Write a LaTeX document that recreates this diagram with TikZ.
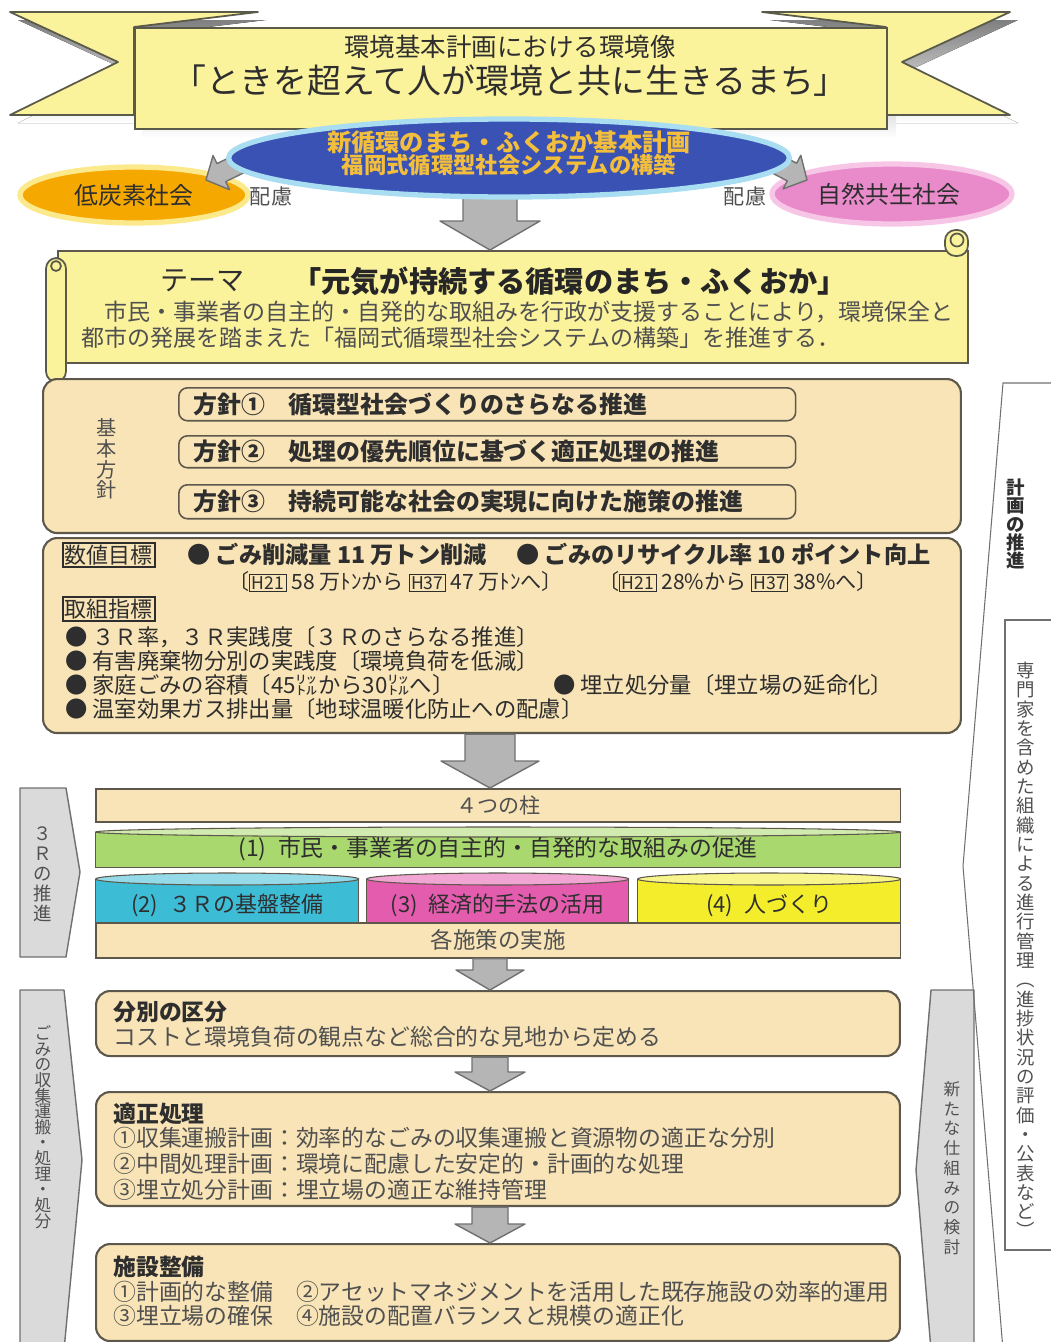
\documentclass[tikz,border=0pt]{standalone}
\usepackage{fontspec}
\setmainfont{Noto Sans CJK JP}
\usetikzlibrary{positioning,calc,shapes.geometric}
\definecolor{ribbon}{HTML}{FBF29C}
\definecolor{ribbonline}{HTML}{5A5A4A}
\definecolor{shade}{HTML}{8C8C8C}
\definecolor{planblue}{HTML}{3A52B4}
\definecolor{planrim}{HTML}{A8DDF2}
\definecolor{plantext}{HTML}{F3BE3C}
\definecolor{lowcarbon}{HTML}{F5A800}
\definecolor{lowrim}{HTML}{FBE98C}
\definecolor{nature}{HTML}{E98BCB}
\definecolor{naturerim}{HTML}{F7C6E6}
\definecolor{tan}{HTML}{F8E4B6}
\definecolor{tanline}{HTML}{5E574B}
\definecolor{ink}{HTML}{2E2E2E}
\definecolor{inksoft}{HTML}{505050}
\definecolor{arrgray}{HTML}{B5B5B5}
\definecolor{arrline}{HTML}{707070}
\definecolor{sidegray}{HTML}{DADADA}
\definecolor{pillgreen}{HTML}{A9D86E}
\definecolor{pillcyan}{HTML}{3DBCD6}
\definecolor{pillpink}{HTML}{E35CAE}
\definecolor{pillyellow}{HTML}{F3ED2C}
\setlength{\fboxsep}{0.8pt}
\setlength{\fboxrule}{0.6pt}
\newcommand{\sz}[2]{\fontsize{#1}{#2}\selectfont}
\newcommand{\yr}[1]{\fbox{\sz{10}{11}#1}}
% block arrow: tail, tip, shaft half width, head half width, head length
\newcommand{\blockarr}[5]{%
  \coordinate (neck) at ($(#2)!#5!(#1)$);
  \draw[barrow] ($(#1)!#3!90:(#2)$) -- ($(neck)!#3!90:(#2)$) -- ($(neck)!#4!90:(#2)$)
    -- (#2) -- ($(neck)!#4!-90:(#2)$) -- ($(neck)!#3!-90:(#2)$)
    -- ($(#1)!#3!-90:(#2)$) -- cycle;}

\begin{document}
\begin{tikzpicture}[x=0.02cm, y=-0.02cm,
  ribbonbox/.style={draw=ribbonline, line width=1pt, fill=ribbon, anchor=north west, inner sep=0},
  ribbontail/.style={draw=ribbonline, line width=1pt, fill=ribbon, line join=round},
  bigoval/.style={ellipse, line width=3pt, inner sep=0},
  tanbox/.style={draw=tanline, line width=1.2pt, fill=tan, rounded corners=8pt, anchor=north west, inner sep=0},
  aimbox/.style={draw=tanline, line width=0.9pt, rounded corners=5pt, anchor=north west, inner sep=0, minimum width=12.34cm},
  band/.style={draw=tanline, line width=0.9pt, fill=tan, anchor=north west, inner sep=0, minimum width=16.1cm},
  pillar/.style={draw=tanline, line width=0.8pt, anchor=north west, inner sep=0},
  rim/.style={draw=tanline, line width=0.6pt},
  tag/.style={draw=ink, line width=0.9pt, inner sep=1.2pt, text=ink, anchor=west, font=\sz{12.5}{14}},
  txt/.style={inner sep=0, text=ink, anchor=west},
  vtext/.style={align=center, inner sep=0, text=inksoft},
  barrow/.style={fill=arrgray, draw=arrline, line width=0.8pt, line join=round},
  sidebar/.style={fill=sidegray, draw=arrline, line width=0.8pt, line join=round},
  guide/.style={draw=arrline, line width=0.6pt}
]
\useasboundingbox (0,0) rectangle (1051,1342);

% vision banner
\fill[shade] (18,20) -- (266,20) -- (142,35) -- (142,123) -- (18,123) -- (126,70) -- cycle;
\fill[shade] (1018,20) -- (770,20) -- (894,35) -- (894,123) -- (1018,123) -- (910,70) -- cycle;
\fill[shade] (142,35) rectangle (896,138);
\draw[ribbontail] (10,12) -- (258,12) -- (134,27) -- (134,115) -- (10,115) -- (118,62) -- cycle;
\draw[ribbontail] (1010,12) -- (762,12) -- (886,27) -- (886,115) -- (1010,115) -- (902,62) -- cycle;
\node[ribbonbox, minimum width=15.04cm, minimum height=2.02cm] (vision) at (134,27) {};
\node[txt, anchor=center, font=\sz{14.5}{16}] (visionsub) at (510,47) {環境基本計画における環境像};
\node[txt, anchor=center, font=\sz{19.3}{22}] (visiontitle) at (510,81) {「ときを超えて人が環境と共に生きるまち」};

% theme scroll
\node[tanbox, fill=ribbon, rounded corners=0pt, minimum width=18.2cm, minimum height=2.24cm] (theme) at (57,250) {};
\draw[ribbontail, rounded corners=6pt] (46,258) rectangle (66,382);
\draw[ribbontail] (56,266) circle[radius=0.1cm];
\draw[ribbontail, rounded corners=6pt] (945,230) rectangle (968,256);
\draw[ribbontail] (957,240) circle[radius=0.13cm];
\node[txt, font=\sz{16}{18}] (themehead) at (160,281) {テーマ};
\node[txt, font=\bfseries\sz{16.6}{18}, text=black!85] (themetitle) at (292,281) {「元気が持続する循環のまち・ふくおか」};
\node[txt, font=\sz{13.1}{14}, text=inksoft] (themebody1) at (81,312) {　市民・事業者の自主的・自発的な取組みを行政が支援することにより，環境保全と};
\node[txt, font=\sz{13.1}{14}, text=inksoft] (themebody2) at (81,338) {都市の発展を踏まえた「福岡式循環型社会システムの構築」を推進する．};

% down arrow into the theme
\coordinate (ax) at (490,0);
\coordinate (a1s) at (ax |- vision.south);
\coordinate (a1e) at (ax |- theme.north);
\blockarr{a1s}{a1e}{0.54cm}{1cm}{0.58cm}

% side societies, arrows to them, plan ellipse
\node[bigoval, draw=lowrim, fill=lowcarbon, minimum width=4.56cm, minimum height=1.12cm] (lowc) at (134,195) {};
\node[txt, anchor=center, font=\sz{13.6}{15}] (lowctext) at (lowc) {低炭素社会};
\node[bigoval, draw=naturerim, fill=nature, minimum width=4.8cm, minimum height=1.2cm] (natc) at (892,194) {};
\node[txt, anchor=center, font=\sz{13.6}{15}] (natctext) at (889,194) {自然共生社会};
\coordinate (lefttail) at (268,150);
\coordinate (lefttip) at (206,180);
\coordinate (righttail) at (750,150);
\coordinate (righttip) at (807,180);
\blockarr{lefttail}{lefttip}{0.2cm}{0.38cm}{0.34cm}
\blockarr{righttail}{righttip}{0.2cm}{0.38cm}{0.34cm}
\node[bigoval, draw=planrim, fill=planblue, minimum width=11.22cm, minimum height=1.56cm] (plan) at (509,158) {};
\node[txt, anchor=center, text=plantext, font=\bfseries\sz{13.8}{15}] (plantitle) at (509,142) {新循環のまち・ふくおか基本計画};
\node[txt, anchor=center, text=plantext, font=\bfseries\sz{12.7}{14}] (plansub) at (509,165) {福岡式循環型社会システムの構築};
\node[txt, anchor=center, font=\sz{12}{14}, text=inksoft] (careleft) at (271,196) {配慮};
\node[txt, anchor=center, font=\sz{12}{14}, text=inksoft] (careright) at (745,196) {配慮};

% basic policy
\node[tanbox, minimum width=18.36cm, minimum height=3.08cm] (policy) at (42,378) {};
\node[vtext, font=\sz{11.5}{11.8}\setlength{\lineskiplimit}{-100pt}] (policylabel) at (107,459) {基\\本\\方\\針};
\node[aimbox, minimum height=0.66cm] (aim1) at (178,387) {};
\node[aimbox, minimum height=0.64cm] (aim2) at (178,435) {};
\node[aimbox, minimum height=0.68cm] (aim3) at (178,484) {};
\node[txt, font=\bfseries\sz{13.6}{15}, right=0.3cm of aim1.west] (aim1text) {方針①　循環型社会づくりのさらなる推進};
\node[txt, font=\bfseries\sz{13.6}{15}, right=0.3cm of aim2.west] (aim2text) {方針②　処理の優先順位に基づく適正処理の推進};
\node[txt, font=\bfseries\sz{13.6}{15}, right=0.3cm of aim3.west] (aim3text) {方針③　持続可能な社会の実現に向けた施策の推進};

% targets and indicators
\node[tanbox, minimum width=18.36cm, minimum height=3.9cm] (targets) at (42,537) {};
\node[tag] (numtag) at (62,555) {数値目標};
\node[txt, font=\bfseries\sz{13.2}{14}] (goal1) at (187,554) {● ごみ削減量 11 万トン削減};
\node[txt, font=\bfseries\sz{13.2}{14}] (goal2) at (516,554) {● ごみのリサイクル率 10 ポイント向上};
\node[txt, font=\sz{12}{13}] (goal1sub) at (228,582) {〔\yr{H21} 58 万ﾄﾝから \yr{H37} 47 万ﾄﾝへ〕};
\node[txt, font=\sz{12}{13}] (goal2sub) at (598,582) {〔\yr{H21} 28\%から \yr{H37} 38\%へ〕};
\node[tag] (acttag) at (62,609) {取組指標};
\node[txt, font=\sz{12.7}{14}] (act1) at (65,637) {● ３Ｒ率，３Ｒ実践度〔３Ｒのさらなる推進〕};
\node[txt, font=\sz{12.7}{14}] (act2) at (65,661) {● 有害廃棄物分別の実践度〔環境負荷を低減〕};
\node[txt, font=\sz{12.7}{14}] (act3) at (65,685) {● 家庭ごみの容積〔45㍑から30㍑へ〕};
\node[txt, font=\sz{12.7}{14}] (act4) at (553,685) {● 埋立処分量〔埋立場の延命化〕};
\node[txt, font=\sz{12.7}{14}] (act5) at (65,709) {● 温室効果ガス排出量〔地球温暖化防止への配慮〕};

% four pillars
\node[band, minimum height=0.66cm] (pillars) at (95,788) {};
\node[txt, anchor=center, font=\sz{12}{14}, text=inksoft] (pillarstext) at (pillars) {４つの柱};
\node[pillar, fill=pillgreen, minimum width=16.1cm, minimum height=0.7cm] (pill1) at (95,832) {};
\draw[rim, fill=pillgreen!55!white] (pill1.north) ellipse [x radius=8.05cm, y radius=0.1cm];
\node[pillar, fill=pillcyan, minimum width=5.26cm, minimum height=0.86cm] (pill2) at (95,879) {};
\draw[rim, fill=pillcyan!55!white] (pill2.north) ellipse [x radius=2.63cm, y radius=0.12cm];
\node[pillar, fill=pillpink, minimum width=5.24cm, minimum height=0.86cm] (pill3) at (366,879) {};
\draw[rim, fill=pillpink!55!white] (pill3.north) ellipse [x radius=2.62cm, y radius=0.12cm];
\node[pillar, fill=pillyellow, minimum width=5.26cm, minimum height=0.86cm] (pill4) at (637,879) {};
\draw[rim, fill=pillyellow!55!white] (pill4.north) ellipse [x radius=2.63cm, y radius=0.12cm];
\node[txt, anchor=center, font=\sz{13}{14}] (pill1text) at ($(pill1.center)+(0,-1)$) {(1)\enspace 市民・事業者の自主的・自発的な取組みの促進};
\node[txt, anchor=center, font=\sz{12.5}{14}] (pill2text) at ($(pill2.center)+(0,4)$) {(2)\enspace ３Ｒの基盤整備};
\node[txt, anchor=center, font=\sz{12.5}{14}] (pill3text) at ($(pill3.center)+(0,4)$) {(3)\enspace 経済的手法の活用};
\node[txt, anchor=center, font=\sz{12.5}{14}] (pill4text) at ($(pill4.center)+(0,4)$) {(4)\enspace 人づくり};
\node[band, minimum height=0.7cm] (deploy) at (95,922) {};
\node[txt, anchor=center, font=\sz{12.8}{14}, text=inksoft] (deploytext) at (deploy) {各施策の実施};

% collection, treatment and facilities
\node[tanbox, minimum width=16.08cm, minimum height=1.3cm] (sort) at (95,990) {};
\node[txt, font=\bfseries\sz{13}{14}] (sorthead) at ($(sort.north west)+(18,22)$) {分別の区分};
\node[txt, font=\sz{13}{14}, text=inksoft] (sortbody) at ($(sort.north west)+(18,47)$) {コストと環境負荷の観点など総合的な見地から定める};
\node[tanbox, minimum width=16.08cm, minimum height=2.28cm] (treat) at (95,1091) {};
\node[txt, font=\bfseries\sz{13}{14}] (treathead) at ($(treat.north west)+(18,23)$) {適正処理};
\node[txt, font=\sz{13}{14}, text=inksoft] (treat1) at ($(treat.north west)+(18,47)$) {①収集運搬計画：効率的なごみの収集運搬と資源物の適正な分別};
\node[txt, font=\sz{13}{14}, text=inksoft] (treat2) at ($(treat.north west)+(18,73)$) {②中間処理計画：環境に配慮した安定的・計画的な処理};
\node[txt, font=\sz{13}{14}, text=inksoft] (treat3) at ($(treat.north west)+(18,99)$) {③埋立処分計画：埋立場の適正な維持管理};
\node[tanbox, minimum width=16.08cm, minimum height=1.94cm] (facility) at (95,1243) {};
\node[txt, font=\bfseries\sz{13}{14}] (facilityhead) at ($(facility.north west)+(18,24)$) {施設整備};
\node[txt, font=\sz{13}{14}, text=inksoft] (facility1) at ($(facility.north west)+(18,49)$) {①計画的な整備　②アセットマネジメントを活用した既存施設の効率的運用};
\node[txt, font=\sz{13}{14}, text=inksoft] (facility2) at ($(facility.north west)+(18,73)$) {③埋立場の確保　④施設の配置バランスと規模の適正化};

% arrows between the stages
\coordinate (a2s) at (ax |- targets.south);
\coordinate (a2e) at (ax |- pillars.north);
\blockarr{a2s}{a2e}{0.5cm}{0.98cm}{0.54cm}
\coordinate (a3s) at (ax |- deploy.south);
\coordinate (a3e) at (ax |- sort.north);
\blockarr{a3s}{a3e}{0.34cm}{0.68cm}{0.4cm}
\coordinate (a4s) at (ax |- sort.south);
\coordinate (a4e) at (ax |- treat.north);
\blockarr{a4s}{a4e}{0.36cm}{0.7cm}{0.38cm}
\coordinate (a5s) at (ax |- treat.south);
\coordinate (a5e) at (ax |- facility.north);
\blockarr{a5s}{a5e}{0.36cm}{0.7cm}{0.38cm}

% side bars
\draw[sidebar] (20,788) -- (66,788) -- (80,872) -- (66,957) -- (20,957) -- cycle;
\node[vtext, font=\sz{10.5}{11.4}\setlength{\lineskiplimit}{-100pt}] (rrlabel) at (43,874) {３\\Ｒ\\の\\推\\進};
\draw[sidebar] (20,990) -- (64,990) -- (82,1160) -- (64,1350) -- (20,1350) -- cycle;
\node[vtext, font=\sz{9.5}{8.9}\setlength{\lineskiplimit}{-100pt}] (wastelabel) at (43,1127) {ご\\み\\の\\収\\集\\運\\搬\\・\\処\\理\\・\\処\\分};
\draw[sidebar] (931,990) -- (974,990) -- (974,1350) -- (931,1350) -- (916,1170) -- cycle;
\node[vtext, font=\sz{9.5}{11.2}\setlength{\lineskiplimit}{-100pt}] (newlabel) at (952,1168) {新\\た\\な\\仕\\組\\み\\の\\検\\討};

% plan management on the right
\draw[guide] (1060,383) -- (1003,383) -- (963,866) -- (1003,1350);
\node[vtext, text=ink, font=\bfseries\sz{10.5}{10.3}\setlength{\lineskiplimit}{-100pt}] (pushlabel) at (1016,524) {計\\画\\の\\推\\進};
\draw[guide] (1060,620) -- (1005,620) -- (1005,1250) -- (1060,1250);
\node[vtext, font=\sz{10.5}{11}\setlength{\lineskiplimit}{-100pt}] (mgmtlabel) at (1026,950) {専\\門\\家\\を\\含\\め\\た\\組\\織\\に\\よ\\る\\進\\行\\管\\理\\︵\\進\\捗\\状\\況\\の\\評\\価\\・\\公\\表\\な\\ど\\︶};
\end{tikzpicture}
\end{document}
